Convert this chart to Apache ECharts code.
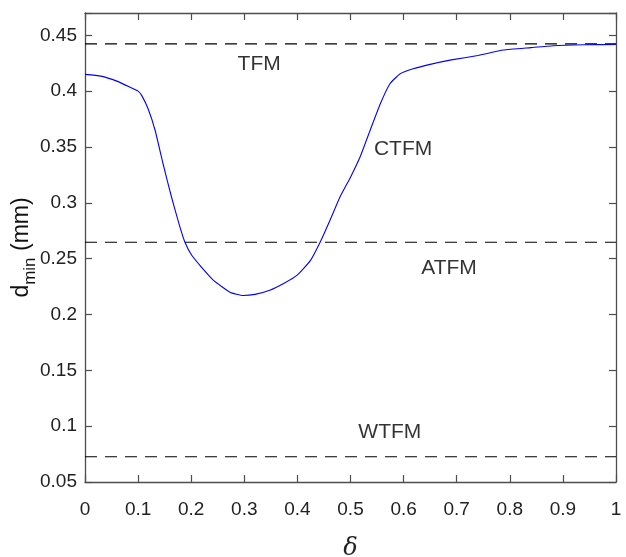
<!DOCTYPE html>
<html><head><meta charset="utf-8">
<script src="https://cdn.jsdelivr.net/npm/echarts@6/dist/echarts.min.js"></script>
<style>html,body{margin:0;padding:0;background:#fff}#c{width:626px;height:557px}</style>
</head><body><div id="c"></div>
<script>
const deltaVals = [0,0.03,0.06,0.085,0.1,0.107,0.119,0.132,0.147,0.163,0.179,0.188,0.201,0.22,0.242,0.273,0.298,0.32,0.348,0.375,0.399,0.424,0.443,0.461,0.48,0.5,0.518,0.537,0.556,0.574,0.593,0.618,0.65,0.69,0.74,0.788,0.84,0.882,0.94,1.0];
const dminVals = [0.415,0.4135,0.409,0.4035,0.400,0.396,0.384,0.365,0.335,0.305,0.278,0.265,0.253,0.242,0.2306,0.220,0.217,0.218,0.2217,0.228,0.235,0.248,0.265,0.284,0.305,0.323,0.341,0.365,0.3885,0.4064,0.4154,0.420,0.424,0.428,0.432,0.4368,0.439,0.4407,0.4415,0.4418];
const thresholdNames = ['TFM','ATFM','WTFM'];
const thresholdVals = [0.4423,0.2647,0.0726];
const lineXs = [0,1];
const labelNames = ['TFM','CTFM','ATFM','WTFM'];
const labelX = [0.328,0.599,0.6855,0.574];
const labelY = [0.424,0.348,0.2418,0.095];

const FONT = "'Liberation Sans Narrow','Arial Narrow','Liberation Sans',sans-serif";
const axisCol = '#4d4d4d';
const tickStyle = {show:true, inside:true, length:7, lineStyle:{color:axisCol, width:1.2}};
const chart = echarts.init(document.getElementById('c'));
const series = [];
thresholdVals.forEach((v,i)=>{
  series.push({type:'line', name:thresholdNames[i], data: lineXs.map(x=>[x,v]), symbol:'none',
    lineStyle:{color:'#000', width:1.2, type:[12,8]}, silent:true, z:2});
});
series.push({type:'line', data: deltaVals.map((x,i)=>[x,dminVals[i]]), symbol:'none', smooth:0.15,
  lineStyle:{color:'#0000ff', width:1.1}, z:3});
series.push({type:'scatter', data: labelX.map((x,i)=>({value:[x,labelY[i]], name:labelNames[i]})), symbolSize:0,
  label:{show:true, position:'inside', formatter:p=>p.name, fontFamily:FONT, fontSize:21, color:'#000'}, z:4});

chart.setOption({
  animation:false,
  grid:{left:85, right:10, top:13, bottom:75, containLabel:false, outerBoundsMode:'none'},
  xAxis:[{type:'value', min:0, max:1, interval:0.1, position:'bottom',
    name:'δ', nameLocation:'middle', nameGap:55, nameMoveOverlap:false,
    nameTextStyle:{fontFamily:'DejaVu Serif', fontStyle:'italic', fontSize:24, color:'#222'},
    axisLine:{show:true, onZero:false, lineStyle:{color:axisCol, width:1.3}},
    axisTick:tickStyle,
    axisLabel:{fontFamily:FONT, fontSize:19, color:'#222', margin:18, formatter:v=>String(+v.toFixed(1))},
    splitLine:{show:false}},
   {type:'value', min:0, max:1, interval:0.1, position:'top',
    axisLine:{show:true, onZero:false, lineStyle:{color:axisCol, width:1.3}},
    axisTick:tickStyle,
    axisLabel:{show:false}, splitLine:{show:false}}],
  yAxis:[{type:'value', min:0.05, max:0.47, interval:0.05, position:'left',
    name:'{d|d}{s|min}{d| (mm)}', nameLocation:'middle', nameGap:52, nameMoveOverlap:false,
    nameTextStyle:{rich:{d:{fontFamily:"'Liberation Sans',sans-serif", fontSize:23, color:'#111', verticalAlign:'bottom'},
                          s:{fontFamily:"'Liberation Sans',sans-serif", fontSize:17, color:'#111', padding:[0,0,-6,0], verticalAlign:'bottom'}}},
    axisLine:{show:true, onZero:false, lineStyle:{color:axisCol, width:1.3}},
    axisTick:tickStyle,
    axisLabel:{fontFamily:FONT, fontSize:19, color:'#222', margin:8,
      formatter:v=>{const r=Math.round(v*100)/100; return (r*100)%5===0 && r<=0.45 ? String(r) : '';}},
    splitLine:{show:false}},
   {type:'value', min:0.05, max:0.47, interval:0.05, position:'right',
    axisLine:{show:true, onZero:false, lineStyle:{color:axisCol, width:1.3}},
    axisTick:tickStyle,
    axisLabel:{show:false}, splitLine:{show:false}}],
  series: series
});
</script></body></html>
